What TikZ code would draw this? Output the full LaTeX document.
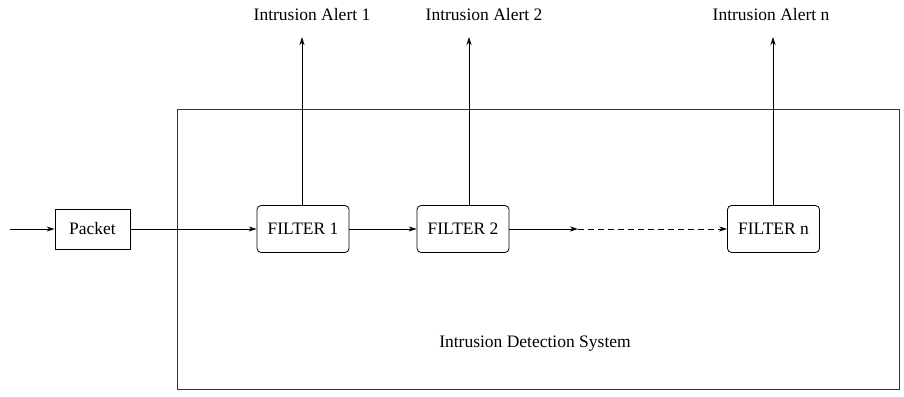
\documentclass[tikz,border=0pt]{standalone}
\usepackage{fontspec}
\setmainfont{Liberation Serif}
\usetikzlibrary{arrows.meta}
\begin{document}
\begin{tikzpicture}[x=1pt,y=-1pt,
  every node/.style={font=\fontsize{17.5}{20}\selectfont, inner sep=0pt},
  flow/.style={line width=0.8pt, -{Stealth[length=8pt,width=5pt,inset=2.5pt]}},
  filterbox/.style={draw, line width=0.8pt, rounded corners=4pt,
    minimum width=92pt, minimum height=47pt},
  plainbox/.style={draw, line width=0.8pt, minimum width=75pt, minimum height=40pt},
  frame/.style={draw, draw=black!80, line width=0.8pt, minimum width=722pt, minimum height=280pt}]
\useasboundingbox (0,0) rectangle (904,396);

% enclosing system
\node[frame] (ids) at (538,249) {};
\node (idslabel) at (535,344) {Intrusion Detection System};

% packet and filter chain
\node[plainbox] (packet) at (92.5,229) {Packet};
\node[filterbox] (f1) at (303,229) {FILTER 1};
\node[filterbox] (f2) at (463,229) {FILTER 2};
\node[filterbox] (fn) at (773.5,229) {FILTER n};

\coordinate (in) at (10,229);
\coordinate (gap) at (578,229);

\draw[flow] (in) -- (packet.west);
\draw[flow] (packet.east) -- (f1.west);
\draw[flow] (f1.east) -- (f2.west);
\draw[flow] (f2.east) -- (gap);
\draw[flow, dashed, dash pattern=on 6pt off 4pt] (gap) -- (fn.west);

% alert outputs
\coordinate (a1) at (302,37);
\coordinate (a2) at (469,37);
\coordinate (an) at (773,37);
\draw[flow] (a1 |- f1.north) -- (a1);
\draw[flow] (a2 |- f2.north) -- (a2);
\draw[flow] (an |- fn.north) -- (an);

\node (l1) at (312,15) {Intrusion Alert 1};
\node (l2) at (484,15) {Intrusion Alert 2};
\node (ln) at (771,15) {Intrusion Alert n};
\end{tikzpicture}
\end{document}
